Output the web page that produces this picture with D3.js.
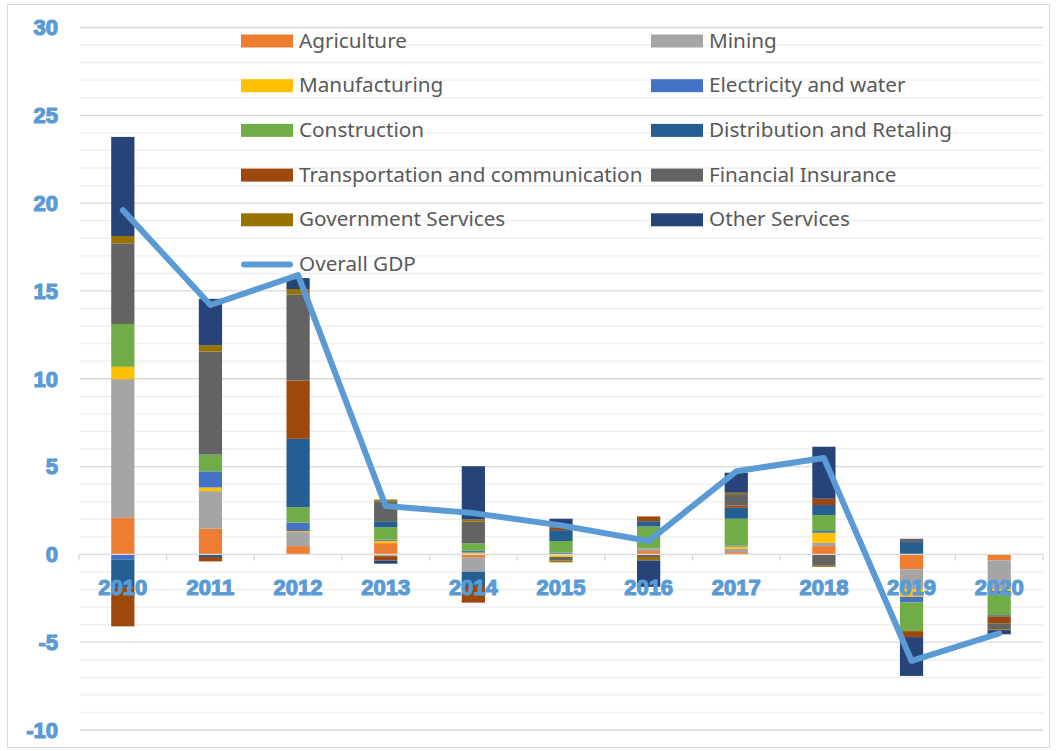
<!DOCTYPE html>
<html>
<head>
<meta charset="utf-8">
<script src="https://cdn.jsdelivr.net/npm/d3@7"></script>
<style>
  body { margin: 0; background: #fff; }
  svg { display: block; }
</style>
</head>
<body>
<div id="chart"></div>
<script>
// data
var years = ["2010", "2011", "2012", "2013", "2014", "2015", "2016", "2017", "2018", "2019", "2020"];

var agriculture    = [2.08, 1.46, 0.47, 0.64, -0.19, 0, 0.19, 0.13, 0.47, -0.85, -0.34];
var mining         = [7.90, 2.14, 0.80, -0.10, -0.80, -0.05, 0.15, 0.19, 0.19, -1.16, -1.65];
var manufacturing  = [0.70, 0.21, 0.06, 0.13, 0.10, -0.10, 0, 0.13, 0.57, -0.41, -0.10];
var electricity    = [-0.30, 0.92, 0.48, 0.07, 0.10, 0.10, 0, 0.06, 0.10, -0.32, -0.20];
var construction   = [2.44, 0.95, 0.87, 0.70, 0.43, 0.66, 1.25, 1.52, 0.91, -1.63, -1.18];
var distribution   = [-1.60, -0.15, 3.90, 0.31, -0.81, 0.62, 0.30, 0.62, 0.57, 0.70, -0.07];
var transportation = [-2.20, -0.25, 3.32, -0.25, -0.95, 0.15, 0.27, 0.13, 0.36, -0.34, -0.38];
var financial      = [4.59, 5.87, 4.90, 1.17, 1.23, -0.20, -0.15, 0.65, -0.65, 0.19, -0.34];
var government     = [0.42, 0.36, 0.31, 0.10, 0.13, -0.10, -0.20, 0.08, -0.06, 0, -0.05];
var otherServices  = [5.64, 2.64, 0.62, -0.18, 3.03, 0.50, -1.50, 1.14, 2.96, -2.21, -0.24];
var overallGDP     = [19.6, 14.2, 15.9, 2.75, 2.35, 1.65, 0.76, 4.73, 5.49, -6.06, -4.5];

var seriesNames = ["Agriculture", "Mining", "Manufacturing", "Electricity and water", "Construction",
  "Distribution and Retaling", "Transportation and communication", "Financial Insurance",
  "Government Services", "Other Services"];
var seriesValues = [agriculture, mining, manufacturing, electricity, construction,
  distribution, transportation, financial, government, otherServices];
var seriesColors = ["#ED7D31", "#A5A5A5", "#FFC000", "#4472C4", "#70AD47",
  "#255E91", "#9E480E", "#636363", "#997300", "#264478"];
var yTicks = [30, 25, 20, 15, 10, 5, 0, -5, -10];

var width = 1057, height = 751;
var blue = "#5B9BD5";

var svg = d3.select("#chart").append("svg")
  .attr("width", width)
  .attr("height", height);

// outer chart border
svg.append("rect")
  .attr("x", 7.5).attr("y", 4.5)
  .attr("width", 1042).attr("height", 743)
  .attr("fill", "none")
  .attr("stroke", "#d9d9d9");

var x = d3.scaleBand()
  .domain(years)
  .range([79, 1043])
  .paddingInner(0.735)
  .paddingOuter(0.3675);

var y = d3.scaleLinear()
  .domain([-10, 30])
  .range([730, 27.5]);

// minor gridlines every 1, major every 5
var minor = d3.range(-10, 31).filter(function(v) { return v % 5 !== 0; });
svg.append("g").selectAll("line")
  .data(minor)
  .enter().append("line")
  .attr("x1", 80).attr("x2", 1043)
  .attr("y1", function(d) { return y(d); })
  .attr("y2", function(d) { return y(d); })
  .attr("stroke", "#eeeeee")
  .attr("stroke-width", 1.3);

svg.append("g").selectAll("line")
  .data(yTicks.filter(function(d) { return d !== 0; }))
  .enter().append("line")
  .attr("x1", 80).attr("x2", 1043)
  .attr("y1", function(d) { return y(d); })
  .attr("y2", function(d) { return y(d); })
  .attr("stroke", "#d9d9d9")
  .attr("stroke-width", 1.3);

// stacked bars (positives up, negatives down, like Excel)
var table = years.map(function(yr, i) {
  var row = { year: yr };
  seriesNames.forEach(function(n, k) { row[n] = seriesValues[k][i]; });
  return row;
});

var stacked = d3.stack()
  .keys(seriesNames)
  .offset(d3.stackOffsetDiverging)(table);

svg.append("g").selectAll("g")
  .data(stacked)
  .enter().append("g")
  .attr("fill", function(d, k) { return seriesColors[k]; })
  .selectAll("rect")
  .data(function(d) { return d; })
  .enter().append("rect")
  .attr("x", function(d) { return x(d.data.year); })
  .attr("width", x.bandwidth())
  .attr("y", function(d) { return y(Math.max(d[0], d[1])); })
  .attr("height", function(d) { return Math.abs(y(d[0]) - y(d[1])); });

// zero axis with ticks between categories
var axisG = svg.append("g");
axisG.append("line")
  .attr("x1", 79).attr("x2", 1043)
  .attr("y1", y(0)).attr("y2", y(0))
  .attr("stroke", "#d9d9d9")
  .attr("stroke-width", 1.3);
axisG.selectAll(".tick")
  .data(d3.range(0, years.length + 1))
  .enter().append("line")
  .attr("x1", function(i) { return 79 + i * x.step(); })
  .attr("x2", function(i) { return 79 + i * x.step(); })
  .attr("y1", y(0)).attr("y2", y(0) + 6)
  .attr("stroke", "#d9d9d9")
  .attr("stroke-width", 1.3);

// overall GDP line
var line = d3.line()
  .x(function(d, i) { return x(years[i]) + x.bandwidth() / 2; })
  .y(function(d) { return y(d); });

svg.append("path")
  .datum(overallGDP)
  .attr("d", line)
  .attr("fill", "none")
  .attr("stroke", blue)
  .attr("stroke-width", 6)
  .attr("stroke-linejoin", "round")
  .attr("stroke-linecap", "round");

// y tick labels
svg.append("g").selectAll("text")
  .data(yTicks)
  .enter().append("text")
  .attr("x", 58)
  .attr("y", function(d) { return y(d); })
  .attr("dy", "0.36em")
  .attr("text-anchor", "end")
  .style("font-family", "'Liberation Sans', Arial, sans-serif")
  .style("font-weight", "bold")
  .style("font-size", "22px")
  .attr("fill", blue)
  .attr("stroke", blue)
  .attr("stroke-width", 1.2)
  .text(function(d) { return d; });

// x category labels (drawn over the bars)
svg.append("g").selectAll("text")
  .data(years)
  .enter().append("text")
  .attr("x", function(d) { return x(d) + x.bandwidth() / 2; })
  .attr("y", 594.5)
  .attr("text-anchor", "middle")
  .style("font-family", "'Liberation Sans', Arial, sans-serif")
  .style("font-weight", "bold")
  .style("font-size", "22px")
  .attr("fill", blue)
  .attr("stroke", blue)
  .attr("stroke-width", 1.2)
  .text(function(d) { return d; });

// legend, two columns
var legendRowY = [41, 85.7, 130.4, 175.1, 219.8, 264.5];
var legend = svg.append("g");
var items = legend.selectAll("g")
  .data(seriesNames)
  .enter().append("g")
  .attr("transform", function(d, k) {
    var col = k % 2, row = Math.floor(k / 2);
    return "translate(" + (col ? 651 : 241) + "," + legendRowY[row] + ")";
  });
items.append("rect")
  .attr("x", 0).attr("y", -6.5)
  .attr("width", 52).attr("height", 13)
  .attr("fill", function(d, k) { return seriesColors[k]; });
items.append("text")
  .attr("x", 58).attr("y", 6.5)
  .style("font-family", "'Noto Sans', sans-serif")
  .style("font-size", "20.7px")
  .attr("fill", "#595959")
  .text(function(d) { return d; });

var gdpItem = legend.append("g")
  .attr("transform", "translate(241," + legendRowY[5] + ")");
gdpItem.append("line")
  .attr("x1", 3).attr("x2", 49)
  .attr("y1", 0).attr("y2", 0)
  .attr("stroke", blue)
  .attr("stroke-width", 6)
  .attr("stroke-linecap", "round");
gdpItem.append("text")
  .attr("x", 58).attr("y", 6.5)
  .style("font-family", "'Noto Sans', sans-serif")
  .style("font-size", "20.7px")
  .attr("fill", "#595959")
  .text("Overall GDP");
</script>
</body>
</html>
